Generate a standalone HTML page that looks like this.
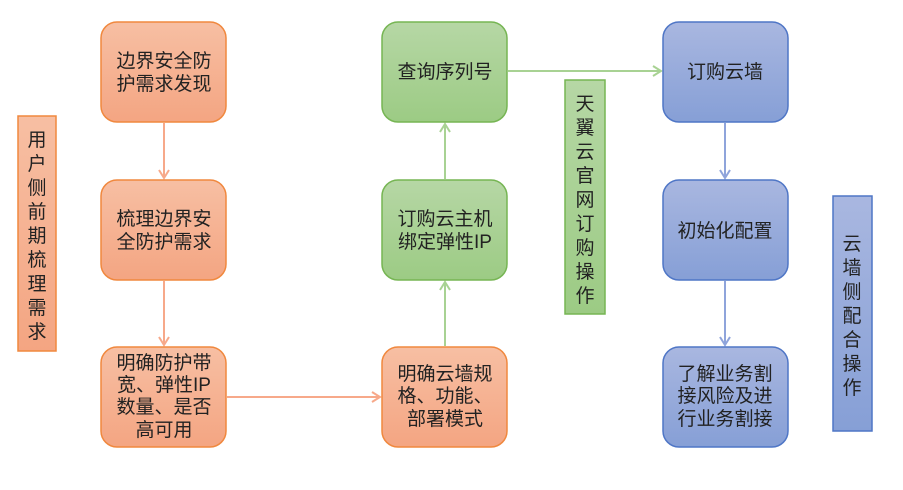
<!DOCTYPE html>
<html><head><meta charset="utf-8"><style>
body{margin:0;background:#fff;width:903px;height:485px;overflow:hidden}
svg text{font-family:"Liberation Sans","Noto Sans CJK SC",sans-serif;font-size:19px;fill:#222;text-anchor:middle}
</style></head><body>
<svg width="903" height="485" xmlns="http://www.w3.org/2000/svg">
<defs>
<linearGradient id="o" x1="0" y1="0" x2="0" y2="1"><stop offset="0" stop-color="#f7bfa3"/><stop offset="1" stop-color="#f4a582"/></linearGradient>
<linearGradient id="g" x1="0" y1="0" x2="0" y2="1"><stop offset="0" stop-color="#b6d7a5"/><stop offset="1" stop-color="#9ccb84"/></linearGradient>
<linearGradient id="b" x1="0" y1="0" x2="0" y2="1"><stop offset="0" stop-color="#a9b7e0"/><stop offset="1" stop-color="#869fd6"/></linearGradient>
</defs>
<g stroke-width="2" fill="none">
<g stroke="#f7a98a">
<line x1="164" y1="123" x2="164" y2="178"/><polyline points="159,170 164,178 169,170"/>
<line x1="164" y1="281" x2="164" y2="345"/><polyline points="159,337 164,345 169,337"/>
<line x1="227" y1="397" x2="380" y2="397"/><polyline points="372,392 380,397 372,402"/>
</g>
<g stroke="#a8d293">
<line x1="445" y1="346" x2="445" y2="282"/><polyline points="440,290 445,282 450,290"/>
<line x1="445" y1="179" x2="445" y2="124"/><polyline points="440,132 445,124 450,132"/>
<line x1="508" y1="71" x2="661" y2="71"/><polyline points="653,66 661,71 653,76"/>
</g>
<g stroke="#8fa4db">
<line x1="725" y1="123" x2="725" y2="178"/><polyline points="720,170 725,178 730,170"/>
<line x1="725" y1="281" x2="725" y2="345"/><polyline points="720,337 725,345 730,337"/>
</g>
</g>
<g stroke="#f0883e" stroke-width="1.5" fill="url(#o)">
<rect x="101" y="22" width="125" height="100" rx="16"/>
<rect x="101" y="180" width="125" height="100" rx="16"/>
<rect x="101" y="347" width="125" height="100" rx="16"/>
<rect x="382" y="347" width="125" height="100" rx="16"/>
<rect x="18" y="116" width="38" height="235"/>
</g>
<g stroke="#76b553" stroke-width="1.5" fill="url(#g)">
<rect x="382" y="22" width="125" height="100" rx="16"/>
<rect x="382" y="180" width="125" height="100" rx="16"/>
<rect x="565" y="80" width="40" height="234"/>
</g>
<g stroke="#4f76c6" stroke-width="1.5" fill="url(#b)">
<rect x="663" y="22" width="125" height="100" rx="16"/>
<rect x="663" y="180" width="125" height="100" rx="16"/>
<rect x="663" y="347" width="125" height="100" rx="16"/>
<rect x="833" y="196" width="39" height="235"/>
</g>
<text x="164" y="67">边界安全防</text><text x="164" y="90">护需求发现</text>
<text x="164" y="225">梳理边界安</text><text x="164" y="248">全防护需求</text>
<text x="164" y="369">明确防护带</text><text x="164" y="391">宽、弹性IP</text><text x="164" y="413">数量、是否</text><text x="164" y="436">高可用</text>
<text x="445" y="380">明确云墙规</text><text x="445" y="402">格、功能、</text><text x="445" y="425">部署模式</text>
<text x="445" y="225">订购云主机</text><text x="445" y="248">绑定弹性IP</text>
<text x="445" y="78">查询序列号</text>
<text x="725" y="78">订购云墙</text>
<text x="725" y="237">初始化配置</text>
<text x="725" y="380">了解业务割</text><text x="725" y="402">接风险及进</text><text x="725" y="425">行业务割接</text>
<g>
<text x="37" y="146">用</text><text x="37" y="170">户</text><text x="37" y="194">侧</text><text x="37" y="218">前</text><text x="37" y="242">期</text><text x="37" y="266">梳</text><text x="37" y="290">理</text><text x="37" y="314">需</text><text x="37" y="338">求</text>
<text x="585" y="110">天</text><text x="585" y="134">翼</text><text x="585" y="158">云</text><text x="585" y="182">官</text><text x="585" y="206">网</text><text x="585" y="230">订</text><text x="585" y="254">购</text><text x="585" y="278">操</text><text x="585" y="302">作</text>
<text x="852" y="250">云</text><text x="852" y="274">墙</text><text x="852" y="298">侧</text><text x="852" y="322">配</text><text x="852" y="346">合</text><text x="852" y="370">操</text><text x="852" y="394">作</text>
</g>
</svg>
</body></html>
